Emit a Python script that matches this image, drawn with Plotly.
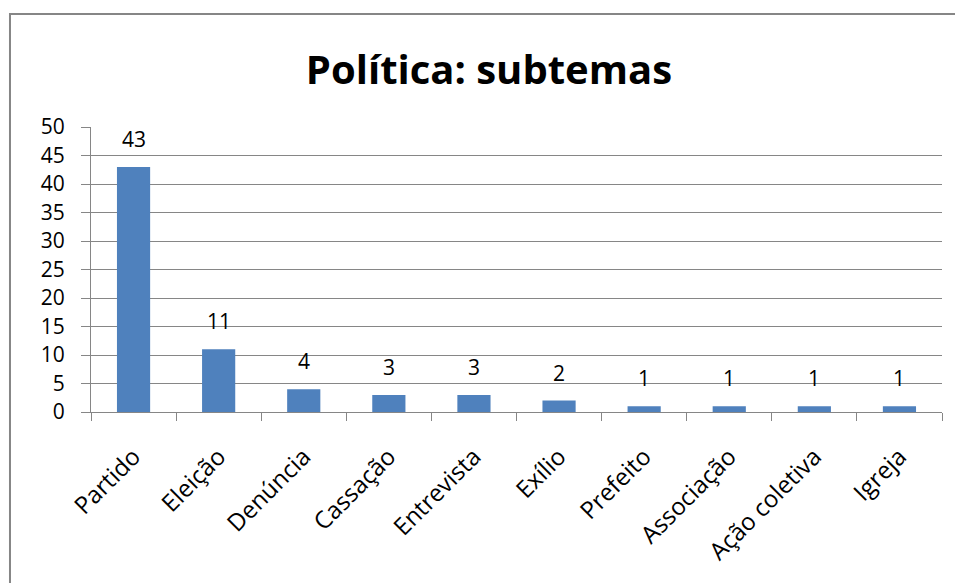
import plotly.graph_objects as go

categories = ["Partido", "Eleição", "Denúncia", "Cassação", "Entrevista", "Exílio",
              "Prefeito", "Associação", "Ação coletiva", "Igreja"]
values = [43, 11, 4, 3, 3, 2, 1, 1, 1, 1]
title_text = "Política: subtemas"

FONT = "Open Sans"
fig = go.Figure()
fig.add_trace(go.Bar(x=categories, y=values, marker=dict(color="#4F81BD", line=dict(width=0)),
                     width=0.39, hoverinfo="x+y"))

for c, v in zip(categories, values):
    fig.add_annotation(x=c, y=v, text=str(v), showarrow=False, yanchor="bottom",
                       yshift=12, font=dict(family=FONT, size=21, color="#000"))

fig.add_shape(type="rect", xref="paper", yref="paper",
              x0=-0.0952, y0=-1.0, x1=1.2, y1=1.3965,
              line=dict(color="#868686", width=2), fillcolor="rgba(0,0,0,0)", layer="below")

fig.update_layout(
    width=955, height=583,
    margin=dict(l=91, r=13, t=127, b=171),
    paper_bgcolor="white", plot_bgcolor="white",
    showlegend=False,
    title=dict(text="<b>" + title_text + "</b>", x=0.512, xanchor="center", y=0.88, yanchor="middle",
               font=dict(family=FONT, size=40, color="#000")),
    font=dict(family=FONT, color="#000"),
)
fig.update_xaxes(tickangle=-45, tickfont=dict(size=24, family=FONT, color="#000"),
                 showline=True, linecolor="#868686", linewidth=1,
                 ticks="outside", ticklen=8, tickcolor="#868686",
                 ticklabelstandoff=20,
                 tickson="boundaries", showgrid=False, fixedrange=True)
fig.update_yaxes(range=[0, 50], dtick=5, tickfont=dict(size=21, family=FONT, color="#000"),
                 showline=True, linecolor="#868686", linewidth=1,
                 ticks="outside", ticklen=9, tickcolor="#868686",
                 ticklabelstandoff=12,
                 showgrid=True, gridcolor="#868686", gridwidth=1, zeroline=False,
                 fixedrange=True)

fig.write_html("out.html")
